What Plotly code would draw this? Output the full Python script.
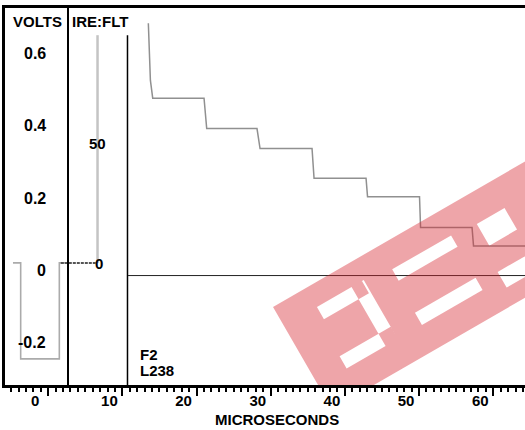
import plotly.graph_objects as go

# ---- data read off the waveform display ----
# x axis: microseconds, y axis: volts
x_major = [0, 10, 20, 30, 40, 50, 60]
x_labels = ["0", "10", "20", "30", "40", "50", "60"]

volt_label_v = [0.6, 0.4, 0.2, 0.0, -0.2]
volt_labels = ["0.6", "0.4", "0.2", "0", "-0.2"]

# small tick marks (5 IRE apart) in the VOLTS strip and on the IRE scale
volt_ticks = [0.6367 - 0.03552 * k for k in range(27)]
ire_major = [0.6174, 0.2652, -0.0870]
ire_minor = [0.6174 - 0.03522 * k for k in range(27)]

# staircase steps
stair_t = [13.50, 13.78, 14.09, 21.01, 21.37, 28.15, 28.56, 35.57, 35.84,
           42.85, 43.05, 50.06, 50.20, 57.14, 57.34, 66.0]
stair_v = [0.683, 0.525, 0.476, 0.476, 0.392, 0.392, 0.337, 0.337, 0.255,
           0.255, 0.204, 0.204, 0.119, 0.119, 0.068, 0.068]

# sync pulse
sync_t = [-4.75, -3.71, -3.71, 1.50, 1.50, 2.60]
sync_v = [0.021, 0.021, -0.244, -0.244, 0.021, 0.021]

# back porch and rising edge
porch_t = [1.7, 6.4]
porch_v = [0.021, 0.021]
rise_t = [6.65, 6.65]
rise_v = [0.021, 0.650]

baseline_t = [10.77, 66.0]
baseline_v = [-0.014, -0.014]

X_RANGE = [-5.824, 64.28]
Y_RANGE = [-0.3163, 0.7251]

FONT = "Liberation Sans, Arial, sans-serif"

fig = go.Figure()
fig.add_trace(go.Scatter(x=sync_t, y=sync_v, mode="lines",
                         line=dict(color="#ababab", width=1.6)))
fig.add_trace(go.Scatter(x=porch_t, y=porch_v, mode="lines",
                         line=dict(color="#555555", width=2, dash="3px,1px")))
fig.add_trace(go.Scatter(x=rise_t, y=rise_v, mode="lines",
                         line=dict(color="#c4c4c4", width=2.5)))
fig.add_trace(go.Scatter(x=baseline_t, y=baseline_v, mode="lines",
                         line=dict(color="#222222", width=1)))
fig.add_trace(go.Scatter(x=stair_t, y=stair_v, mode="lines",
                         line=dict(color="#909090", width=1.5)))


# watermark band (drawn in a rotated u/v frame, converted to data units)
def uv(u, v):
    X = 273 + 0.866 * u + 0.5 * v
    Y = 307 - 0.5 * u + 0.866 * v
    return (X - 48.2) / 7.417, (270.5 - Y) / 362


def rect_path(u0, u1, v0, v1, reverse=False):
    pts = [(u0, v0), (u1, v0), (u1, v1), (u0, v1)]
    if reverse:
        pts = pts[::-1]
    s = ""
    for i, (a, b) in enumerate(pts):
        x, y = uv(a, b)
        s += ("M" if i == 0 else "L") + f"{x:.3f},{y:.4f} "
    return s + "Z "


holes = [
    (38, 90, 22, 36), (78, 92, 22, 90), (33, 92, 76, 90),   # first letter
    (122, 190, 27, 40), (120, 190, 76, 90),                  # second letter
    (218, 250, 30, 55), (212, 250, 82, 100),                 # third letter
]
wm = rect_path(0, 430, 0, 118)
for h in holes:
    wm += rect_path(*h, reverse=True)

fig.add_shape(type="path", path=wm, xref="x", yref="y", layer="above",
              fillcolor="rgb(214,40,50)", opacity=0.42, line=dict(width=0))

# panel separators
fig.add_shape(type="line", xref="x", yref="paper", x0=2.67, x1=2.67, y0=0, y1=1,
              line=dict(color="black", width=2))
fig.add_shape(type="line", xref="x", yref="y", x0=10.69, x1=10.69,
              y0=0.650, y1=Y_RANGE[0], line=dict(color="black", width=1.5))

annotations = []
bold = dict(family=FONT, size=16, color="black", weight="bold")
for v, txt in zip(volt_label_v, volt_labels):
    annotations.append(dict(x=-0.03, y=v, xref="x", yref="y", text=txt,
                            showarrow=False, xanchor="right", yanchor="middle", font=bold))
annotations += [
    dict(x=-1.51, y=0.6865, text="VOLTS"),
    dict(x=6.98, y=0.6865, text="IRE:FLT"),
    dict(x=6.65, y=0.352, text="50"),
    dict(x=6.85, y=0.018, text="0"),
]
for a in annotations[-4:]:
    a.update(xref="x", yref="y", showarrow=False, xanchor="center", yanchor="middle",
             font=dict(family=FONT, size=15, color="black", weight="bold"))
annotations += [
    dict(x=12.11, y=-0.2307, xref="x", yref="y", text="F2", showarrow=False,
         xanchor="left", yanchor="middle", font=dict(family=FONT, size=15, color="black", weight="bold")),
    dict(x=12.11, y=-0.2749, xref="x", yref="y", text="L238", showarrow=False,
         xanchor="left", yanchor="middle", font=dict(family=FONT, size=15, color="black", weight="bold")),
    dict(x=30.85, y=-0.0928, xref="x", yref="paper", text="MICROSECONDS", showarrow=False,
         xanchor="center", yanchor="middle", font=dict(family=FONT, size=15, color="black", weight="bold")),
]

fig.update_layout(
    width=525, height=430,
    margin=dict(l=5, r=0, t=8, b=45),
    paper_bgcolor="white", plot_bgcolor="white",
    showlegend=False,
    annotations=annotations,
    xaxis=dict(range=X_RANGE, showgrid=False, zeroline=False,
               showline=True, linecolor="black", linewidth=2.5, mirror=True,
               tickmode="array", tickvals=x_major, ticktext=x_labels,
               ticks="outside", ticklen=8, tickwidth=2, tickcolor="black",
               ticklabelshift=-13, ticklabelstandoff=-8,
               tickfont=dict(family=FONT, size=15, color="black", weight="bold"),
               minor=dict(dtick=1, tick0=0, ticks="outside", ticklen=4,
                          tickwidth=1.5, tickcolor="black"),
               automargin=False),
    yaxis=dict(range=Y_RANGE, showgrid=False, zeroline=False,
               showline=True, linecolor="black", linewidth=2.5,
               showticklabels=False, ticks="", automargin=False),
    yaxis2=dict(range=Y_RANGE, overlaying="y", anchor="free", position=0.1163,
                side="left", showgrid=False, zeroline=False, showline=False,
                tickmode="array", tickvals=volt_ticks, showticklabels=False,
                ticks="outside", ticklen=4, tickwidth=2, tickcolor="black",
                automargin=False),
    yaxis3=dict(range=Y_RANGE, overlaying="y", anchor="free", position=0.2356,
                side="left", showgrid=False, zeroline=False, showline=False,
                tickmode="array", tickvals=ire_major, showticklabels=False,
                ticks="outside", ticklen=9, tickwidth=1.5, tickcolor="black",
                minor=dict(tickvals=ire_minor, ticks="outside", ticklen=5,
                           tickwidth=1.5, tickcolor="black"),
                automargin=False),
)

# page body has a default 8px margin; remove it so the figure sits at the corner
fig.write_html("out.html", config={"displayModeBar": False},
               post_script="document.body.style.margin='0';")
